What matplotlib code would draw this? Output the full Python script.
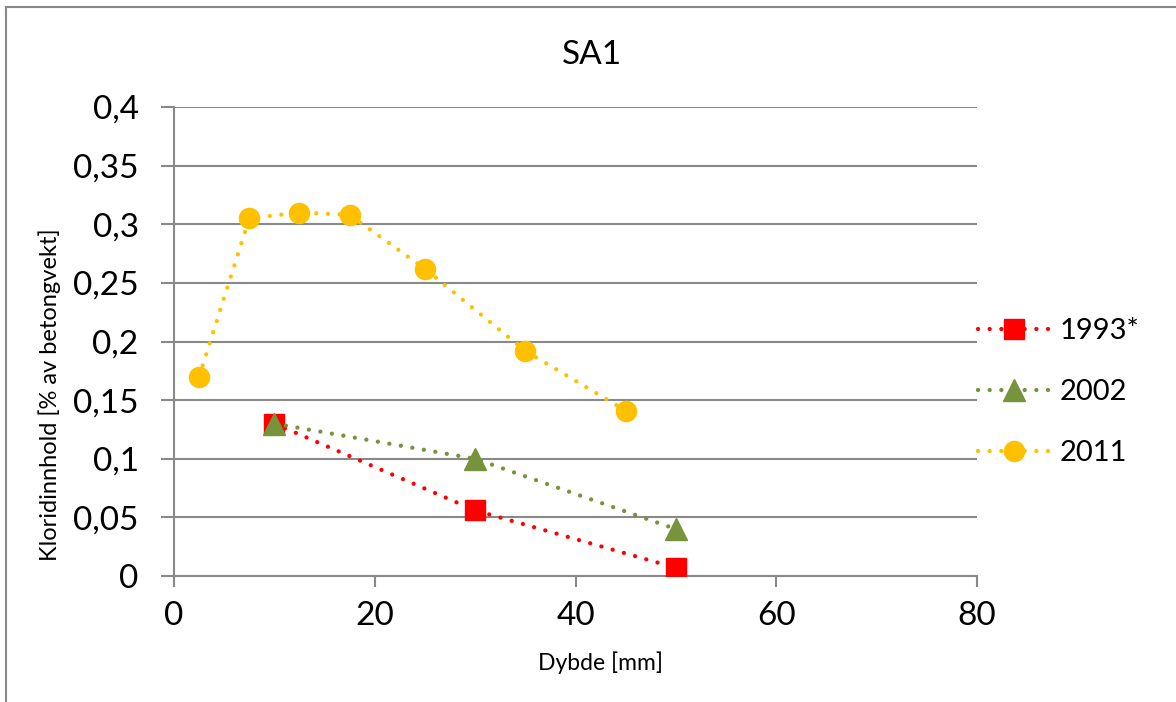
import matplotlib
matplotlib.use("Agg")
import matplotlib.pyplot as plt
from matplotlib.lines import Line2D

# ---- data ----
x_1993 = [10, 30, 50]
y_1993 = [0.13, 0.056, 0.007]
x_2002 = [10, 30, 50]
y_2002 = [0.13, 0.10, 0.04]
x_2011 = [2.5, 7.5, 12.5, 17.5, 25, 35, 45]
y_2011 = [0.170, 0.305, 0.310, 0.308, 0.262, 0.192, 0.141]
series_labels = ["1993*", "2002", "2011"]
x_ticks = [0, 20, 40, 60, 80]
x_ticklabels = ["0", "20", "40", "60", "80"]
y_ticks = [0, 0.05, 0.1, 0.15, 0.2, 0.25, 0.3, 0.35, 0.4]
y_ticklabels = ["0", "0,05", "0,1", "0,15", "0,2", "0,25", "0,3", "0,35", "0,4"]
title = "SA1"
xlabel = "Dybde [mm]"
ylabel = "Kloridinnhold [% av betongvekt]"

plt.rcParams['font.family'] = ['Lato', 'DejaVu Sans']

W, H = 1176, 702
fig = plt.figure(figsize=(W / 100, H / 100), dpi=100)
ax = fig.add_axes([174 / W, 1 - 576 / H, (977 - 174) / W, (576 - 107) / H])

grey = "#898989"
lw = 3.1
dot = (0, (0.01, 2.7))
ms = 14.5

ax.plot(x_1993, y_1993, color="#FF0000", lw=lw, ls=dot, dash_capstyle="round",
        marker="s", ms=ms, label=series_labels[0], zorder=3)
ax.plot(x_2002, y_2002, color="#77933C", lw=lw, ls=dot, dash_capstyle="round",
        marker="^", ms=ms + 1, label=series_labels[1], zorder=3)
ax.plot(x_2011, y_2011, color="#FFC000", lw=lw, ls=dot, dash_capstyle="round",
        marker="o", ms=ms, label=series_labels[2], zorder=3)

ax.set_xlim(0, 80)
ax.set_ylim(0, 0.4)
ax.set_xticks(x_ticks)
ax.set_xticklabels(x_ticklabels)
ax.set_yticks(y_ticks)
ax.set_yticklabels(y_ticklabels)

ax.grid(axis="y", color=grey, lw=1.5)
ax.set_axisbelow(True)
for s in ["top", "right"]:
    ax.spines[s].set_visible(False)
for s in ["left", "bottom"]:
    ax.spines[s].set_color(grey)
    ax.spines[s].set_linewidth(1.5)
ax.tick_params(axis="y", direction="out", length=9.4, width=1.5, color=grey,
               labelsize=24, pad=16)
ax.tick_params(axis="x", direction="out", length=8, width=1.5, color=grey,
               labelsize=24, pad=10)

fig.text(592 / W, 1 - 55 / H, title, ha="center", va="center", fontsize=24)
fig.text(600 / W, 1 - 663 / H, xlabel, ha="center", va="center", fontsize=16.5)
fig.text(50 / W, 1 - 395 / H, ylabel, ha="center", va="center", fontsize=17,
         rotation=90)

leg = ax.legend(loc="center left", bbox_to_anchor=(978 / W, 1 - 392 / H),
                bbox_transform=fig.transFigure, frameon=False, fontsize=21,
                numpoints=1, handlelength=2.5, handletextpad=0.3,
                labelspacing=1.2, borderpad=0, borderaxespad=0)

# outer chart border (left and top edges visible)
fig.add_artist(Line2D([6 / W, 6 / W], [0, 1 - 7 / H], color=grey, lw=1.5,
                      transform=fig.transFigure))
fig.add_artist(Line2D([6 / W, 1], [1 - 7 / H, 1 - 7 / H], color=grey, lw=1.5,
                      transform=fig.transFigure))

fig.savefig("out.png", dpi=100)
